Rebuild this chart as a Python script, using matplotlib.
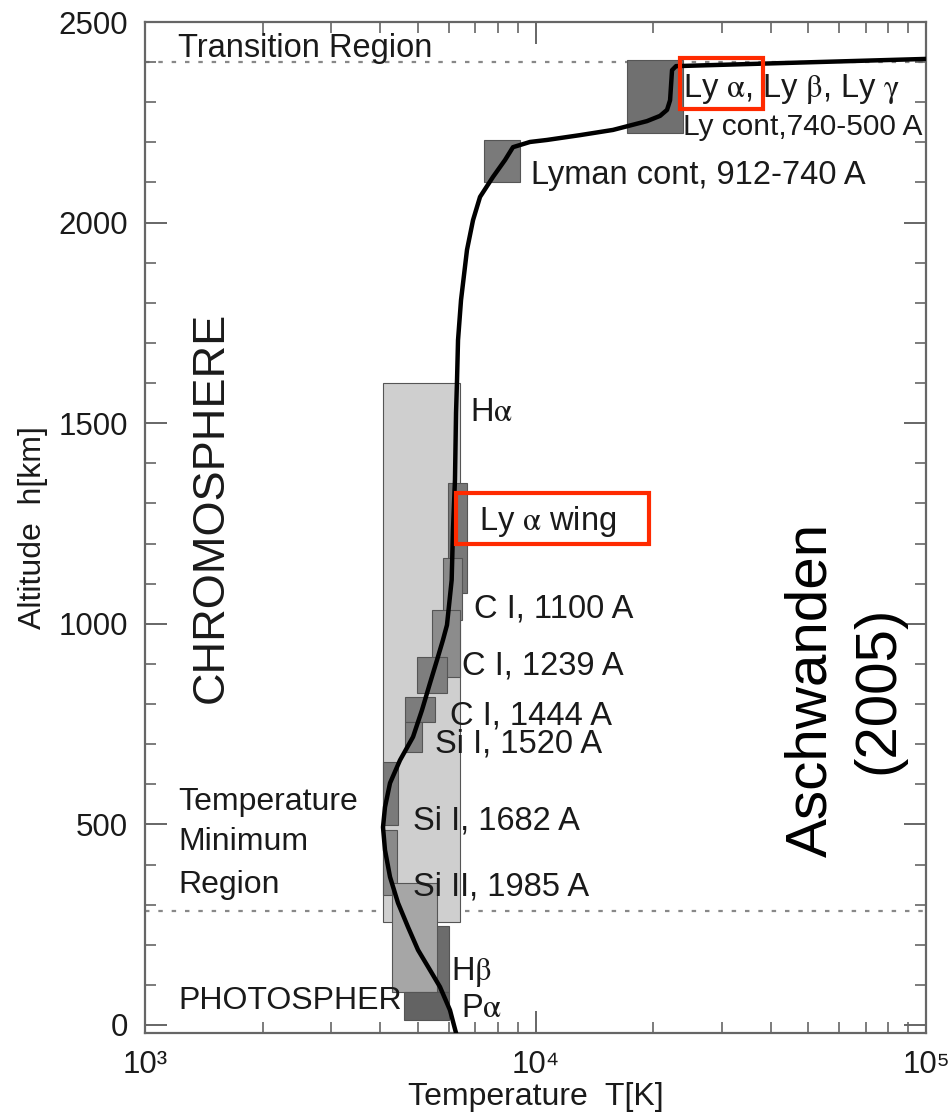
import numpy as np
import matplotlib.pyplot as plt
from matplotlib.patches import Rectangle
from matplotlib.ticker import FixedLocator, FuncFormatter, LogLocator, MultipleLocator

plt.rcParams['font.family'] = ['Liberation Sans', 'DejaVu Sans']
plt.rcParams['mathtext.fontset'] = 'stix'

# temperature profile (altitude km, temperature K)
alt = [-20, 37, 95, 137, 187, 244, 304, 369, 436, 493, 543, 603, 660, 718, 785,
       852, 910, 960, 997, 1109, 1234, 1359, 1526, 1608, 1707, 1807, 1932, 2006,
       2064, 2114, 2156, 2188, 2201, 2206, 2218, 2231, 2253, 2266, 2281, 2305,
       2380, 2390, 2408]
temp = [6259, 6040, 5693, 5368, 5002, 4716, 4446, 4241, 4117, 4069, 4117, 4241,
        4498, 4857, 5121, 5368, 5596, 5796, 5934, 6100, 6147, 6220, 6259, 6296,
        6333, 6446, 6677, 6918, 7210, 7784, 8355, 8757, 9680, 10700, 13000, 15790,
        19300, 20840, 21720, 22110, 22370, 22900, 100000]

# formation ranges of lines / continua: T range, h range
box_names = ['Ha', 'Ly', 'Lycont', 'Lywing', 'CI1100', 'CI1239', 'CI1239b',
             'CI1444', 'SiI1520', 'SiI1682', 'SiII1985', 'Hb', 'mid', 'Pa']
box_tlo = [4070, 17140, 7380, 5970, 5796, 5433, 4973, 4633, 4633, 4070, 4070, 4633, 4290, 4610]
box_thi = [6410, 23900, 9127, 6677, 6483, 6410, 5934, 5528, 5121, 4446, 4420, 6003, 5596, 6003]
box_hlo = [257, 2223, 2101, 1077, 1009, 867, 827, 755, 680, 498, 324, 82, 82, 12]
box_hhi = [1600, 2405, 2206, 1351, 1164, 1034, 917, 817, 755, 655, 486, 247, 354, 82]
box_gray = ['#cfcfcf', '#707070', '#7a7a7a', '#787878', '#8a8a8a', '#8c8c8c', '#7e7e7e',
            '#7c7c7c', '#808080', '#7a7a7a', '#8a8a8a', '#6c6c6c', '#a6a6a6', '#636363']

# annotations
labels = ['Ly $\\mathrm{\\alpha}$, Ly $\\mathrm{\\beta}$, Ly $\\mathrm{\\gamma}$',
          'Ly cont,740-500 A', 'Lyman cont, 912-740 A', 'H$\\mathrm{\\alpha}$',
          'Ly $\\mathrm{\\alpha}$ wing', 'C I, 1100 A', 'C I, 1239 A', 'C I, 1444 A',
          'Si I, 1520 A', 'Si I, 1682 A', 'Si II, 1985 A', 'H$\\mathrm{\\beta}$',
          'P$\\mathrm{\\alpha}$']
label_size = [23.5, 21.5, 23.5, 23.5, 23.5, 23.5, 23.5, 23.5, 23.5, 23.5, 23.5, 23.5, 23.5]
label_t = [23900, 23900, 9750, 6800, 7150, 6960, 6500, 6040, 5530, 4850, 4850, 6080, 6440]
label_h = [2332, 2238, 2118, 1526, 1256, 1036, 895, 771, 700, 508, 345, 133, 41]

region_h = [2400, 285]

fig = plt.figure(figsize=(9.52, 11.17), dpi=100)
ax = fig.add_axes([0.1523, 0.0752, 0.8204, 0.9051])
ax.set_xscale('log')
ax.set_xlim(1e3, 1e5)
ax.set_ylim(-20, 2500)

for h in region_h:
    ax.axhline(h, color='#888888', lw=1.6, ls=(0, (2, 4)), zorder=1)

for i in range(len(box_names)):
    ax.add_patch(Rectangle((box_tlo[i], box_hlo[i]), box_thi[i] - box_tlo[i],
                           box_hhi[i] - box_hlo[i], facecolor=box_gray[i],
                           edgecolor='#555555', lw=0.8, zorder=2 + i * 0.01))

ax.plot(temp, alt, color='black', lw=3.2, zorder=5, solid_joinstyle='round')

for s, fs, t, h in zip(labels, label_size, label_t, label_h):
    ax.text(t, h, s, fontsize=fs, color='#1a1a1a', va='center', ha='left', zorder=6)

ax.text(1215, 2435, 'Transition Region', fontsize=23.5, color='#1a1a1a', va='center')
ax.text(1215, 555, 'Temperature', fontsize=23, color='#1a1a1a', va='center')
ax.text(1215, 455, 'Minimum', fontsize=23, color='#1a1a1a', va='center')
ax.text(1215, 350, 'Region', fontsize=23, color='#1a1a1a', va='center')
ax.text(1215, 60, 'PHOTOSPHER', fontsize=23, color='#1a1a1a', va='center')
ax.text(1476, 1290, 'CHROMOSPHERE', fontsize=32.5, color='#1a1a1a', rotation=90,
        va='center', ha='center')
ax.text(0.896, 0.339, 'Aschwanden\n(2005)', transform=ax.transAxes, fontsize=42,
        color='black', rotation=90, va='center', ha='center', linespacing=1.3)

# red highlight boxes
for t0, t1, h0, h1 in [(23500, 38200, 2282, 2410), (6250, 19500, 1200, 1327)]:
    ax.add_patch(Rectangle((t0, h0), t1 - t0, h1 - h0, fill=False,
                           edgecolor='#ff2a00', lw=3, zorder=7))

ax.xaxis.set_major_locator(FixedLocator([1e3, 1e4, 1e5]))
ax.xaxis.set_minor_locator(LogLocator(base=10, subs=np.arange(2, 10)))
ax.xaxis.set_major_formatter(FuncFormatter(
    lambda v, p: {1e3: '10\u00b3', 1e4: '10\u2074', 1e5: '10\u2075'}.get(v, '')))
ax.xaxis.set_minor_formatter(FuncFormatter(lambda v, p: ''))
ax.yaxis.set_major_locator(MultipleLocator(500))
ax.yaxis.set_minor_locator(MultipleLocator(100))

ax.tick_params(which='both', direction='in', top=True, right=True,
               color='#666666', labelsize=22.5, labelcolor='#1a1a1a')
ax.tick_params(which='major', length=16, width=1.4)
ax.tick_params(which='minor', length=8, width=1.2)
ax.tick_params(axis='x', pad=12)
ax.tick_params(axis='y', pad=12)
for sp in ax.spines.values():
    sp.set_color('#666666')
    sp.set_linewidth(1.6)

ax.set_xlabel('Temperature  T[K]', fontsize=23, color='#1a1a1a', labelpad=2)
ax.set_ylabel('Altitude  h[km]', fontsize=23, color='#1a1a1a', labelpad=8)

fig.savefig('out.png', dpi=100)
